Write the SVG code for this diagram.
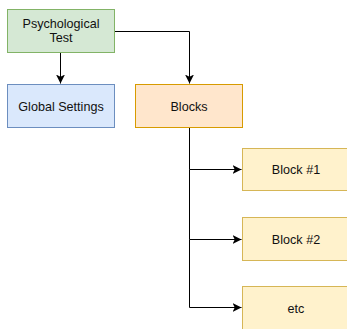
<svg xmlns="http://www.w3.org/2000/svg" width="347" height="329" viewBox="0 0 347 329">
  <style>
    text { font-family: "Liberation Sans", Arial, Helvetica, sans-serif; font-size: 12.6px; fill: #111; text-anchor: middle; }
    .edge { fill: none; stroke: #000; stroke-width: 1; }
    .green { fill: #d5e8d4; stroke: #82b366; }
    .blue { fill: #dae8fc; stroke: #6c8ebf; }
    .orange { fill: #ffe6cc; stroke: #d79b00; }
    .yellow { fill: #fff2cc; stroke: #d6b656; }
  </style>
  <defs>
    <marker id="arrow" viewBox="0 0 10 10" refX="10" refY="5" markerWidth="9" markerHeight="9" markerUnits="userSpaceOnUse" orient="auto">
      <path d="M0,0 L10,5 L0,10 L2.5,5 Z" fill="#000"/>
    </marker>
  </defs>

  <g id="connectors">
    <path class="edge" d="M60.5,52.5 V83.5" marker-end="url(#arrow)"/>
    <path class="edge" d="M114.5,31.5 H189.5 V83.5" marker-end="url(#arrow)"/>
    <path class="edge" d="M189.5,126.5 V169.5 H241.5" marker-end="url(#arrow)"/>
    <path class="edge" d="M189.5,169.5 V239.5 H241.5" marker-end="url(#arrow)"/>
    <path class="edge" d="M189.5,239.5 V307.5 H241.5" marker-end="url(#arrow)"/>
  </g>

  <g id="psychological-test">
    <rect class="green" x="7.5" y="9.5" width="107" height="43"/>
    <text x="61" y="27.5">Psychological</text>
    <text x="61" y="41.5">Test</text>
  </g>

  <g id="global-settings">
    <rect class="blue" x="7.5" y="84.5" width="107" height="43"/>
    <text x="61" y="110.5">Global Settings</text>
  </g>

  <g id="blocks">
    <rect class="orange" x="135.5" y="84.5" width="107" height="43"/>
    <text x="189" y="110.5">Blocks</text>
  </g>

  <g id="block-1">
    <rect class="yellow" x="242.5" y="148.5" width="107" height="42"/>
    <text x="296" y="174">Block #1</text>
  </g>

  <g id="block-2">
    <rect class="yellow" x="242.5" y="217.5" width="107" height="43"/>
    <text x="296" y="243.5">Block #2</text>
  </g>

  <g id="etc">
    <rect class="yellow" x="242.5" y="286.5" width="107" height="43"/>
    <text x="296" y="312.5">etc</text>
  </g>
</svg>
